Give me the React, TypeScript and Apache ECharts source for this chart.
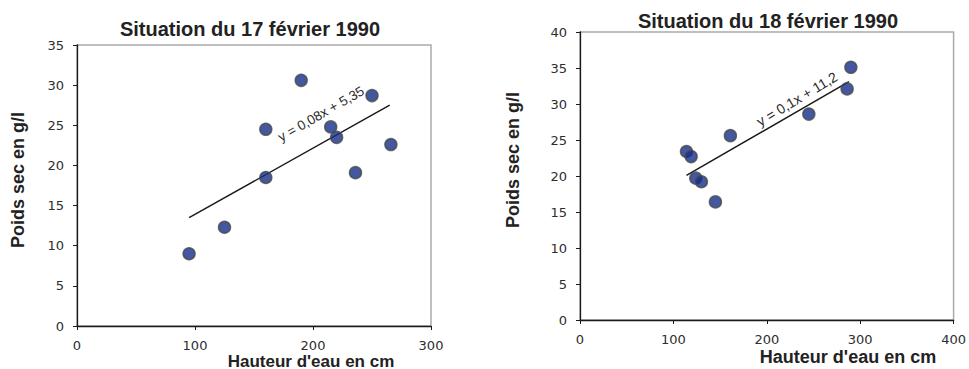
import React, { useEffect, useRef } from "react";
import * as echarts from "echarts";

// Chart 1 — 17 février 1990
const hauteur17: number[] = [95, 125, 160, 160, 190, 215, 220, 236, 250, 266];
const poids17: number[] = [9.0, 12.3, 18.5, 24.5, 30.6, 24.8, 23.5, 19.1, 28.7, 22.6];
const trendX17: number[] = [95, 265];
const trendY17: number[] = [13.5, 27.5];
const equation17 = "y = 0,08x + 5,35";

// Chart 2 — 18 février 1990
const hauteur18: number[] = [114, 119, 124, 130, 145, 161, 245, 286, 290];
const poids18: number[] = [23.4, 22.7, 19.7, 19.2, 16.4, 25.6, 28.6, 32.1, 35.1];
const trendX18: number[] = [114, 288];
const trendY18: number[] = [20.1, 33.1];
const equation18 = "y = 0,1x + 11,2";

const titles: string[] = ["Situation du 17 février 1990", "Situation du 18 février 1990"];
const xName = "Hauteur d'eau en cm";
const yName = "Poids sec en g/l";

const FONT = "Arial, 'Liberation Sans', Helvetica, sans-serif";
const TICK_FONT = "'DejaVu Sans', Verdana, sans-serif";

export default function App() {
  const ref = useRef<HTMLDivElement>(null);
  useEffect(() => {
    if (!ref.current) return;
    const chart = echarts.init(ref.current, undefined, { renderer: "svg" });
    const pts = (xs: number[], ys: number[]) => xs.map((x, i) => [x, ys[i]]);

    const axisCommon = {
      splitLine: { show: false },
      axisLine: { show: true, lineStyle: { color: "#1a1a1a", width: 1.3 } },
      axisTick: { show: true, inside: false, length: 4, lineStyle: { color: "#1a1a1a", width: 1 } },
      axisLabel: { color: "#2e2e2e", fontFamily: TICK_FONT, fontSize: 13, margin: 13 },
    };

    const scatterStyle = {
      color: "#152d8a",
      borderColor: "#4a4a4a",
      borderWidth: 1.5,
    };

    chart.setOption({
      animation: false,
      backgroundColor: "#ffffff",
      title: [
        {
          text: titles[0],
          left: 245,
          top: 14,
          textAlign: "center",
          textStyle: { fontFamily: FONT, fontSize: 20, fontWeight: "bold", color: "#222" },
        },
        {
          text: titles[1],
          left: 763,
          top: 6,
          textAlign: "center",
          textStyle: { fontFamily: FONT, fontSize: 20, fontWeight: "bold", color: "#222" },
        },
      ],
      grid: [
        { left: 77, top: 45, width: 354, height: 281, show: true, borderColor: "#aaaaaa", borderWidth: 1.5 },
        { left: 580, top: 32, width: 378, height: 288, show: true, borderColor: "#aaaaaa", borderWidth: 1.5 },
      ],
      xAxis: [
        { ...axisCommon, type: "value", gridIndex: 0, min: 0, max: 300, interval: 100 },
        { ...axisCommon, type: "value", gridIndex: 1, min: 0, max: 400, interval: 100 },
      ],
      yAxis: [
        { ...axisCommon, type: "value", gridIndex: 0, min: 0, max: 35, interval: 5 },
        { ...axisCommon, type: "value", gridIndex: 1, min: 0, max: 40, interval: 5 },
      ],
      series: [
        {
          type: "line",
          xAxisIndex: 0,
          yAxisIndex: 0,
          data: pts(trendX17, trendY17),
          showSymbol: false,
          lineStyle: { color: "#1a1a1a", width: 1.5 },
          z: 1,
        },
        {
          type: "scatter",
          xAxisIndex: 0,
          yAxisIndex: 0,
          data: pts(hauteur17, poids17),
          symbol: "circle",
          symbolSize: 12,
          itemStyle: scatterStyle,
          z: 2,
        },
        {
          type: "line",
          xAxisIndex: 1,
          yAxisIndex: 1,
          data: pts(trendX18, trendY18),
          showSymbol: false,
          lineStyle: { color: "#1a1a1a", width: 1.5 },
          z: 1,
        },
        {
          type: "scatter",
          xAxisIndex: 1,
          yAxisIndex: 1,
          data: pts(hauteur18, poids18),
          symbol: "circle",
          symbolSize: 12,
          itemStyle: scatterStyle,
          z: 2,
        },
      ],
      graphic: [
        {
          type: "text",
          x: 321,
          y: 114,
          rotation: (30 * Math.PI) / 180,
          style: { text: equation17, fontFamily: FONT, fontSize: 13.5, fill: "#2a2a2a", align: "center", verticalAlign: "middle" },
        },
        {
          type: "text",
          x: 797,
          y: 99,
          rotation: (31 * Math.PI) / 180,
          style: { text: equation18, fontFamily: FONT, fontSize: 14, fill: "#2a2a2a", align: "center", verticalAlign: "middle" },
        },
        {
          type: "text",
          x: 18,
          y: 180,
          rotation: Math.PI / 2,
          style: { text: yName, fontFamily: FONT, fontSize: 18, fontWeight: "bold", fill: "#222", align: "center", verticalAlign: "middle" },
        },
        {
          type: "text",
          x: 513,
          y: 160,
          rotation: Math.PI / 2,
          style: { text: yName, fontFamily: FONT, fontSize: 18, fontWeight: "bold", fill: "#222", align: "center", verticalAlign: "middle" },
        },
        {
          type: "text",
          x: 311,
          y: 361,
          style: { text: xName, fontFamily: FONT, fontSize: 17, fontWeight: "bold", fill: "#222", align: "center", verticalAlign: "middle" },
        },
        {
          type: "text",
          x: 848,
          y: 357,
          style: { text: xName, fontFamily: FONT, fontSize: 18, fontWeight: "bold", fill: "#222", align: "center", verticalAlign: "middle" },
        },
      ],
    });
    return () => chart.dispose();
  }, []);

  return (
    <div
      ref={ref}
      style={{ position: "fixed", left: 0, top: 0, width: 969, height: 369, background: "#fff" }}
    />
  );
}
